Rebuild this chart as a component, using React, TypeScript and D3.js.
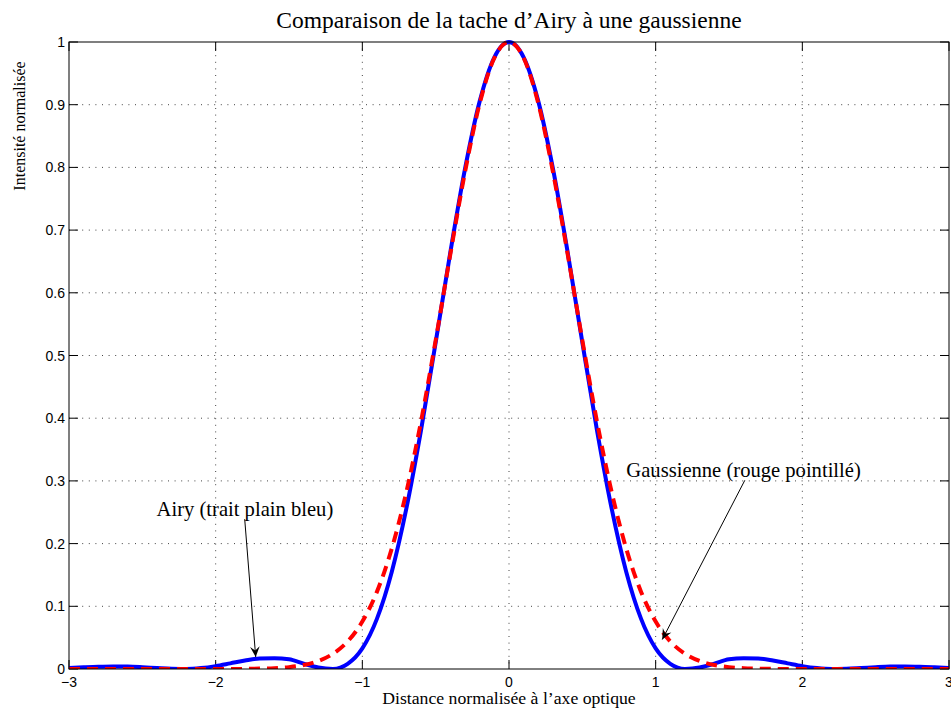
import React from "react";
import * as d3 from "d3";

const xValues = [
  -3.0, -2.9, -2.8, -2.7, -2.6, -2.5, -2.4, -2.3, -2.2, -2.1, -2.0, -1.9, -1.8, -1.7, -1.6, -1.5, -1.4, -1.3, -1.2, -1.1,
  -1.0, -0.9, -0.8, -0.7, -0.6, -0.5, -0.4, -0.3, -0.2, -0.1, 0.0, 0.1, 0.2, 0.3, 0.4, 0.5, 0.6, 0.7, 0.8, 0.9,
  1.0, 1.1, 1.2, 1.3, 1.4, 1.5, 1.6, 1.7, 1.8, 1.9, 2.0, 2.1, 2.2, 2.3, 2.4, 2.5, 2.6, 2.7, 2.8, 2.9, 3.0,
];

const airyValues = [
  0.0014, 0.0026, 0.0036, 0.0041, 0.0039, 0.0029, 0.0015, 0.0003, 0.0001, 0.0015, 0.0046, 0.009, 0.0135, 0.0168, 0.0173,
  0.0155, 0.0085, 0.0023, 0.0002, 0.0082, 0.0328, 0.0803, 0.1544, 0.2558, 0.3806, 0.5209, 0.6645, 0.7975, 0.9053, 0.9756,
  1.0, 0.9756, 0.9053, 0.7975, 0.6645, 0.5209, 0.3806, 0.2558, 0.1544, 0.0803, 0.0328, 0.0082, 0.0002, 0.0023, 0.0085,
  0.0155, 0.0173, 0.0168, 0.0135, 0.009, 0.0046, 0.0015, 0.0001, 0.0003, 0.0015, 0.0029, 0.0039, 0.0041, 0.0036, 0.0026,
  0.0014,
];

const gaussValues = [
  0, 0, 0, 0, 0, 0, 0, 0, 0, 0, 0, 0.0001, 0.0002, 0.0006, 0.0013, 0.003, 0.0063, 0.0127, 0.0243, 0.0439, 0.0756, 0.1234,
  0.1915, 0.2821, 0.3946, 0.5243, 0.6615, 0.7926, 0.9019, 0.9745, 1.0, 0.9745, 0.9019, 0.7926, 0.6615, 0.5243, 0.3946,
  0.2821, 0.1915, 0.1234, 0.0756, 0.0439, 0.0243, 0.0127, 0.0063, 0.003, 0.0013, 0.0006, 0.0002, 0.0001, 0, 0, 0, 0, 0,
  0, 0, 0, 0, 0, 0,
];

const xTicks = [-3, -2, -1, 0, 1, 2, 3];
const yTicks = [0, 0.1, 0.2, 0.3, 0.4, 0.5, 0.6, 0.7, 0.8, 0.9, 1];

const titleText = "Comparaison de la tache d\u2019Airy \u00e0 une gaussienne";
const xLabelText = "Distance normalis\u00e9e \u00e0 l\u2019axe optique";
const yLabelText = "Intensit\u00e9 normalis\u00e9e";

const annotations = [
  { text: "Airy (trait plain bleu)", tx: -2.403, ty: 0.244, fromX: -1.802, fromY: 0.239, toX: -1.727, toY: 0.019 },
  { text: "Gaussienne (rouge pointill\u00e9)", tx: 0.8, ty: 0.307, fromX: 1.608, fromY: 0.301, toX: 1.045, toY: 0.047 },
];

const W = 951;
const H = 712;
const M = { left: 69, right: 949, top: 42, bottom: 669 };

export default function App() {
  const x = d3.scaleLinear().domain([-3, 3]).range([M.left, M.right]);
  const y = d3.scaleLinear().domain([0, 1]).range([M.bottom, M.top]);

  const line = d3
    .line<number>()
    .x((_, i) => x(xValues[i]))
    .y((v) => y(v))
    .curve(d3.curveMonotoneX);

  const airyPath = line(airyValues) || "";
  const gaussPath = line(gaussValues) || "";

  const tickLen = 9;
  const sans = "'Liberation Sans', Arial, Helvetica, sans-serif";
  const serif = "'Liberation Serif', 'Times New Roman', serif";

  const arrowHead = (x1: number, y1: number, x2: number, y2: number) => {
    const dx = x2 - x1;
    const dy = y2 - y1;
    const len = Math.sqrt(dx * dx + dy * dy);
    const ux = dx / len;
    const uy = dy / len;
    const nx = -uy;
    const ny = ux;
    const L = 10.5;
    const Wd = 4.8;
    const notch = 6.5;
    const p = [
      [x2, y2],
      [x2 - L * ux + Wd * nx, y2 - L * uy + Wd * ny],
      [x2 - notch * ux, y2 - notch * uy],
      [x2 - L * ux - Wd * nx, y2 - L * uy - Wd * ny],
    ];
    return "M" + p.map((q) => q[0] + "," + q[1]).join("L") + "Z";
  };

  return (
    <svg
      width={W}
      height={H}
      style={{ position: "absolute", left: 0, top: 0, background: "#fff" }}
      xmlns="http://www.w3.org/2000/svg"
    >
      <rect x={0} y={0} width={W} height={H} fill="#fff" />
      <defs>
        <clipPath id="plotClip">
          <rect x={M.left} y={M.top - 3} width={M.right - M.left} height={M.bottom - M.top + 3} />
        </clipPath>
      </defs>
      {/* grid */}
      <g stroke="#444" strokeWidth={1} strokeDasharray="1 5.6" fill="none">
        {xTicks.slice(1, -1).map((t) => (
          <line key={"gx" + t} x1={x(t)} x2={x(t)} y1={M.top} y2={M.bottom} />
        ))}
        {yTicks.slice(1, -1).map((t) => (
          <line key={"gy" + t} x1={M.left} x2={M.right} y1={y(t)} y2={y(t)} />
        ))}
      </g>
      {/* ticks */}
      <g stroke="#000" strokeWidth={1}>
        {xTicks.map((t) => (
          <g key={"tx" + t}>
            <line x1={x(t)} x2={x(t)} y1={M.bottom} y2={M.bottom - tickLen} />
            <line x1={x(t)} x2={x(t)} y1={M.top} y2={M.top + tickLen} />
          </g>
        ))}
        {yTicks.map((t) => (
          <g key={"ty" + t}>
            <line x1={M.left} x2={M.left + tickLen} y1={y(t)} y2={y(t)} />
            <line x1={M.right} x2={M.right - tickLen} y1={y(t)} y2={y(t)} />
          </g>
        ))}
      </g>
      {/* curves */}
      <g clipPath="url(#plotClip)" fill="none">
        <path d={airyPath} stroke="#0000ff" strokeWidth={4} strokeLinejoin="round" />
        <path d={gaussPath} stroke="#ff0000" strokeWidth={4} strokeDasharray="11 7" />
      </g>
      {/* axes box */}
      <rect
        x={M.left}
        y={M.top}
        width={M.right - M.left}
        height={M.bottom - M.top}
        fill="none"
        stroke="#000"
        strokeWidth={1}
      />
      {/* tick labels */}
      <g fontFamily={sans} fontSize={14} fill="#000">
        {xTicks.map((t) => (
          <text key={"lx" + t} x={x(t)} y={687} textAnchor="middle">
            {t < 0 ? "\u2212" + Math.abs(t) : String(t)}
          </text>
        ))}
        {yTicks.map((t) => (
          <text key={"ly" + t} x={65} y={y(t)} textAnchor="end" dominantBaseline="central">
            {String(t)}
          </text>
        ))}
      </g>
      {/* titles */}
      <text x={x(0)} y={28} textAnchor="middle" fontFamily={serif} fontSize={23.5} fill="#000">
        {titleText}
      </text>
      <text x={x(0)} y={704} textAnchor="middle" fontFamily={serif} fontSize={17.7} fill="#000">
        {xLabelText}
      </text>
      <text
        transform={`translate(25,126) rotate(-90)`}
        textAnchor="middle"
        fontFamily={serif}
        fontSize={16}
        fill="#000"
      >
        {yLabelText}
      </text>
      {/* annotations */}
      {annotations.map((a, i) => {
        const x1 = x(a.fromX);
        const y1 = y(a.fromY);
        const x2 = x(a.toX);
        const y2 = y(a.toY);
        return (
          <g key={"ann" + i}>
            <text x={x(a.tx)} y={y(a.ty)} fontFamily={serif} fontSize={20.6} fill="#000">
              {a.text}
            </text>
            <line x1={x1} y1={y1} x2={x2} y2={y2} stroke="#000" strokeWidth={1} />
            <path d={arrowHead(x1, y1, x2, y2)} fill="#000" />
          </g>
        );
      })}
    </svg>
  );
}
